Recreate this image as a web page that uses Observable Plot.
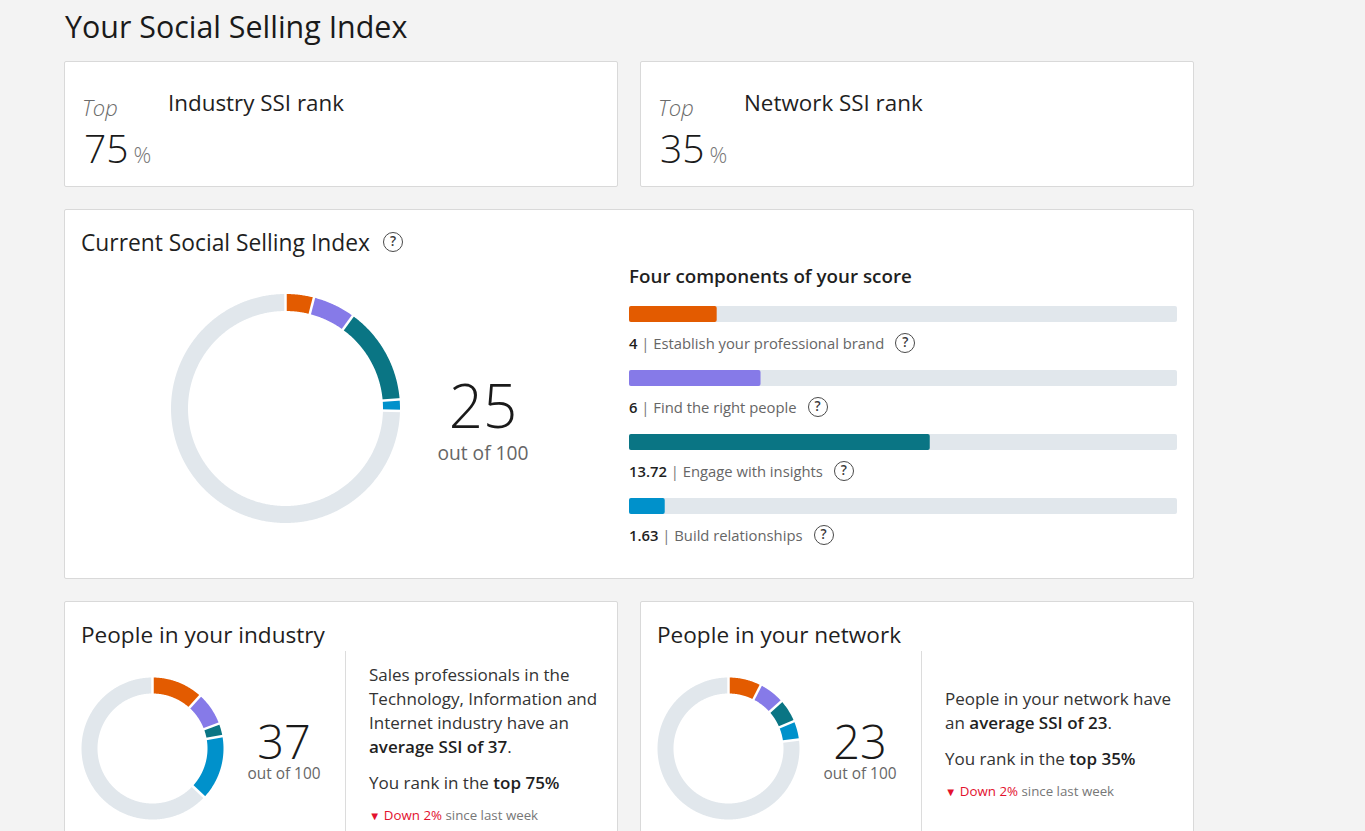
<!DOCTYPE html>
<html><head><meta charset="utf-8">
<script src="https://cdn.jsdelivr.net/npm/d3@7"></script>
<script src="https://cdn.jsdelivr.net/npm/@observablehq/plot@0.6"></script>
<style>
body{margin:0;background:#f3f3f3;font-family:"Open Sans",sans-serif;color:#1f1f1f;width:1365px;height:831px;overflow:hidden;position:relative}
.t{position:absolute;line-height:1;white-space:nowrap}
.card{position:absolute;background:#fff;border:1px solid #d9d9d9;border-radius:2px;box-sizing:border-box}
.q{position:absolute;box-sizing:border-box;width:20px;height:20px;border:1.6px solid #4a4a4a;border-radius:50%;font-size:13.5px;line-height:17px;text-align:center;color:#3a3a3a;font-weight:600;font-family:"Open Sans",sans-serif}
.qi{display:inline-block;vertical-align:middle;box-sizing:border-box;width:20px;height:20px;border:1.6px solid #4a4a4a;border-radius:50%;font-size:13.5px;line-height:17px;text-align:center;color:#3a3a3a;font-weight:600;margin-left:11px;position:relative;top:-2px}
.plot{position:absolute}
.div{position:absolute;width:1px;background:#dcdcdc}
b{font-weight:600;color:#1f1f1f}
.red{color:#e3112e}
</style></head><body>
<script>
// ---------- data ----------
const components = ["Establish your professional brand", "Find the right people", "Engage with insights", "Build relationships"];
const componentColors = ["#e35b00", "#867ae8", "#0a7584", "#0091cb"];
const yourScores = [4, 6, 13.72, 1.63];
const industryScores = [11.7, 7.6, 2.9, 14.8];
const networkScores = [7.5, 5.9, 5.3, 4.3];
const componentMax = 25;
const ssiMax = 100;
const yourSSI = 25, industrySSI = 37, networkSSI = 23;
const industryRankTop = 75, networkRankTop = 35;
const industryChange = -2, networkChange = -2;
const track = "#e1e7ec";

// ---------- helpers ----------
function T(x, base, size, html, o = {}) {
  const d = document.createElement("div");
  d.className = "t";
  d.innerHTML = html;
  d.style.fontSize = size + "px";
  d.style.top = (base - 0.888 * size) + "px";
  d.style.left = x + "px";
  if (o.anchor === "middle") d.style.transform = "translateX(-50%)";
  if (o.weight) d.style.fontWeight = o.weight;
  if (o.color) d.style.color = o.color;
  if (o.italic) d.style.fontStyle = "italic";
  document.body.appendChild(d);
  return d;
}
function card(x, y, w, h) {
  const d = document.createElement("div");
  d.className = "card";
  Object.assign(d.style, {left: x + "px", top: y + "px", width: w + "px", height: h + "px"});
  document.body.appendChild(d);
}
function Q(cx, cy) {
  const d = document.createElement("div");
  d.className = "q"; d.textContent = "?";
  d.style.left = (cx - 10) + "px"; d.style.top = (cy - 10) + "px";
  document.body.appendChild(d);
}
function place(node, x, y) {
  node.classList.add("plot");
  node.style.left = x + "px"; node.style.top = y + "px";
  document.body.appendChild(node);
}
function divider(x, y1, y2) {
  const d = document.createElement("div");
  d.className = "div";
  Object.assign(d.style, {left: x + "px", top: y1 + "px", height: (y2 - y1) + "px"});
  document.body.appendChild(d);
}

function donut(values, size, rOuter, thick) {
  const half = size / 2, rMid = rOuter - thick / 2;
  const segs = [];
  let acc = 0;
  values.forEach((v, i) => { segs.push({key: components[i], start: acc, end: acc + v, color: componentColors[i]}); acc += v; });
  segs.push({key: "rest", start: acc, end: ssiMax, color: track});
  const pts = [];
  for (const s of segs) {
    const n = Math.max(2, Math.ceil((s.end - s.start) / ssiMax * 720));
    for (let k = 0; k <= n; k++) {
      const a = (s.start + (s.end - s.start) * k / n) / ssiMax * 2 * Math.PI;
      pts.push({key: s.key, color: s.color, x: rMid * Math.sin(a), y: rMid * Math.cos(a)});
    }
  }
  const ro = rOuter + 2, ri = rOuter - thick - 2;
  const seps = segs.map(s => {
    const a = s.start / ssiMax * 2 * Math.PI;
    return {x1: ro * Math.sin(a), y1: ro * Math.cos(a), x2: ri * Math.sin(a), y2: ri * Math.cos(a)};
  });
  return Plot.plot({
    width: size, height: size, margin: 0,
    x: {domain: [-half, half], axis: null},
    y: {domain: [-half, half], axis: null},
    color: {type: "identity"},
    marks: [
      Plot.line(pts, {x: "x", y: "y", z: "key", stroke: "color", strokeWidth: thick, strokeLinecap: "butt"}),
      Plot.link(seps, {x1: "x1", y1: "y1", x2: "x2", y2: "y2", stroke: "white", strokeWidth: 2.5})
    ]
  });
}
function bar(value, color) {
  return Plot.plot({
    width: 548, height: 16, margin: 0,
    x: {domain: [0, componentMax], axis: null},
    marks: [
      Plot.barX([{v: componentMax}], {x1: 0, x2: "v", fill: track, rx: 2}),
      Plot.barX([{v: value}], {x1: 0, x2: "v", fill: color, rx: 2})
    ]
  });
}

// ---------- layout ----------
T(65, 39, 30.4, "Your Social Selling Index", {color: "#1a1a1a"});

card(64, 61, 554, 126);
card(640, 61, 554, 126);
card(64, 209, 1130, 370);
card(64, 601, 554, 260);
card(640, 601, 554, 260);

[[0, industryRankTop, "Industry SSI rank"], [576, networkRankTop, "Network SSI rank"]].forEach(([dx, v, lab]) => {
  T(82 + dx, 116, 22, "Top", {italic: true, color: "#6b6b6b", weight: 300});
  T(84 + dx, 163, 39, v + '<span style="font-size:22px;color:#777;margin-left:5px">%</span>', {weight: 300, color: "#1a1a1a"});
  T(168 + dx, 112, 22.4, lab, {color: "#1f1f1f"});
});

// Current SSI
T(81, 252, 22.8, "Current Social Selling Index", {color: "#1f1f1f"});
Q(393, 242);
place(donut(yourScores, 240, 114.5, 17), 165, 288);
T(483, 428, 60, String(yourSSI), {anchor: "middle", weight: 300, color: "#1a1a1a"});
T(483, 460, 19.2, "out of " + ssiMax, {anchor: "middle", color: "#666"});

T(629, 284, 18.8, "Four components of your score", {weight: 600, color: "#1f1f1f"});
components.forEach((c, i) => {
  const y = 306 + 64 * i;
  place(bar(yourScores[i], componentColors[i]), 629, y);
  T(629, y + 42, 14.8, `<b>${yourScores[i]}</b> <span style="color:#777">|</span> ${c}<span class="qi">?</span>`, {color: "#666"});
});

// People in your industry
T(81, 644, 22.6, "People in your industry", {color: "#1f1f1f"});
divider(345, 651, 831);
place(donut(industryScores, 150, 71, 16), 77, 673);
T(284, 760, 47, String(industrySSI), {anchor: "middle", weight: 300, color: "#1a1a1a"});
T(284, 780, 15.4, "out of " + ssiMax, {anchor: "middle", color: "#666"});
T(369, 681, 17, "Sales professionals in the", {color: "#333"});
T(369, 705, 17, "Technology, Information and", {color: "#333"});
T(369, 729, 17, "Internet industry have an", {color: "#333"});
T(369, 753, 17, `<b>average SSI of ${industrySSI}</b>.`, {color: "#333"});
T(369, 789, 17, `You rank in the <b>top ${industryRankTop}%</b>`, {color: "#333"});
T(369, 821, 13.3, `<span class="red" style="font-size:11.5px">&#9660;</span> <span class="red">Down ${Math.abs(industryChange)}%</span> since last week`, {color: "#777"});

// People in your network
T(657, 644, 22.6, "People in your network", {color: "#1f1f1f"});
divider(921, 651, 831);
place(donut(networkScores, 150, 71, 16), 653, 673);
T(860, 760, 47, String(networkSSI), {anchor: "middle", weight: 300, color: "#1a1a1a"});
T(860, 780, 15.4, "out of " + ssiMax, {anchor: "middle", color: "#666"});
T(945, 705, 17, "People in your network have", {color: "#333"});
T(945, 729, 17, `an <b>average SSI of ${networkSSI}</b>.`, {color: "#333"});
T(945, 765, 17, `You rank in the <b>top ${networkRankTop}%</b>`, {color: "#333"});
T(945, 797, 13.3, `<span class="red" style="font-size:11.5px">&#9660;</span> <span class="red">Down ${Math.abs(networkChange)}%</span> since last week`, {color: "#777"});
</script>
</body></html>
